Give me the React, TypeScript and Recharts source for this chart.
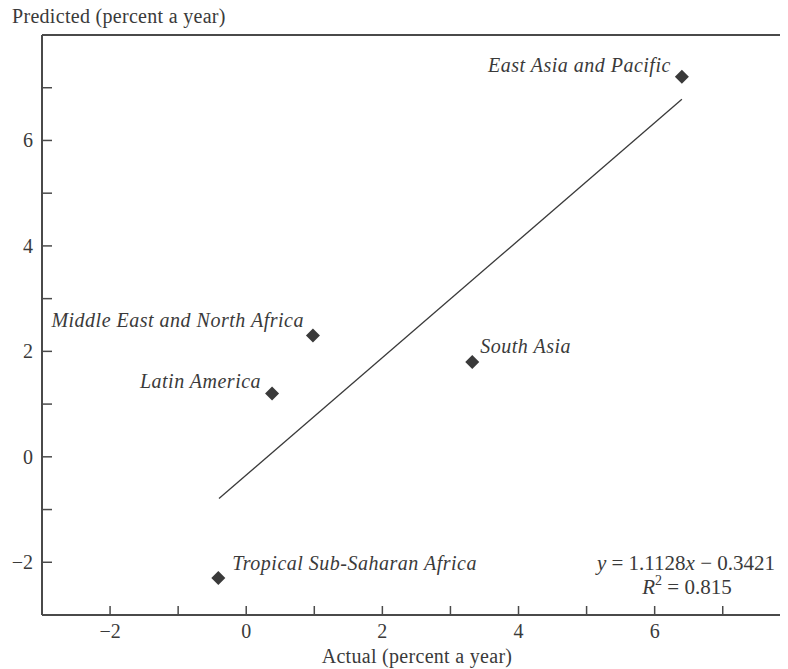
import React from 'react';
import { ScatterChart, Scatter, XAxis, YAxis, ReferenceLine } from 'recharts';

// regions and their growth rates (percent a year)
const regions = [
  'East Asia and Pacific',
  'Middle East and North Africa',
  'Latin America',
  'South Asia',
  'Tropical Sub-Saharan Africa',
];
const actual = [6.4, 0.98, 0.38, 3.32, -0.41];
const predicted = [7.21, 2.3, 1.2, 1.8, -2.3];

// fitted line end points
const fitX = [-0.4, 6.4];
const fitY = [-0.79, 6.78];

const xTicks = [-2, -1, 0, 1, 2, 3, 4, 5, 6, 7];
const yTicks = [-2, -1, 0, 1, 2, 3, 4, 5, 6, 7];

const data = regions.map((name, i) => ({ name, x: actual[i], y: predicted[i] }));

const INK = '#3a3a3a';
const AXIS = '#4a4a4a';
const FONT = '"Liberation Serif", "Times New Roman", serif';

// where each point's label sits relative to its marker
const labelPlace: Record<string, { dx: number; dy: number; anchor: 'start' | 'end' }> = {
  'East Asia and Pacific': { dx: -11, dy: -5, anchor: 'end' },
  'Middle East and North Africa': { dx: -9, dy: -9, anchor: 'end' },
  'Latin America': { dx: -11, dy: -6, anchor: 'end' },
  'South Asia': { dx: 8, dy: -9, anchor: 'start' },
  'Tropical Sub-Saharan Africa': { dx: 14, dy: -8, anchor: 'start' },
};

const fmt = (v: number) => (v < 0 ? `\u2212${-v}` : `${v}`);

const XTick = (props: any) => {
  const { x, y, payload } = props;
  const v = payload.value;
  return (
    <g>
      <line x1={x} y1={y} x2={x} y2={y - 9} stroke={AXIS} strokeWidth={1.5} />
      {v % 2 === 0 && (
        <text x={x} y={y + 23} textAnchor="middle" fill={INK} fontFamily={FONT} fontSize={20}>
          {fmt(v)}
        </text>
      )}
    </g>
  );
};

const YTick = (props: any) => {
  const { x, y, payload } = props;
  const v = payload.value;
  return (
    <g>
      <line x1={x} y1={y} x2={x + 10} y2={y} stroke={AXIS} strokeWidth={1.5} />
      {v % 2 === 0 && (
        <text x={x - 9} y={y + 7} textAnchor="end" fill={INK} fontFamily={FONT} fontSize={20}>
          {fmt(v)}
        </text>
      )}
    </g>
  );
};

const Marker = (props: any) => {
  const { cx, cy, payload } = props;
  const p = labelPlace[payload.name];
  const s = 7;
  return (
    <g>
      <polygon
        points={`${cx},${cy - s} ${cx + s},${cy} ${cx},${cy + s} ${cx - s},${cy}`}
        fill={INK}
      />
      <text
        x={cx + p.dx}
        y={cy + p.dy}
        textAnchor={p.anchor}
        fill={INK}
        fontFamily={FONT}
        fontStyle="italic"
        fontSize={20}
        letterSpacing={0.5}
      >
        {payload.name}
      </text>
    </g>
  );
};

export default function App() {
  return (
    <div style={{ position: 'relative', width: 780, height: 661 }}>
      <style>{'svg { overflow: visible; }'}</style>
      <ScatterChart
        width={780}
        height={661}
        margin={{ top: 27, right: 4, left: 4, bottom: 24 }}
      >
        <XAxis
          type="number"
          dataKey="x"
          domain={[-3, 7.9]}
          ticks={xTicks}
          height={30}
          allowDataOverflow
          axisLine={{ stroke: AXIS, strokeWidth: 2 }}
          tickLine={false}
          tickSize={0}
          tickMargin={0}
          tick={<XTick />}
          interval={0}
        />
        <YAxis
          type="number"
          dataKey="y"
          domain={[-3, 8]}
          ticks={yTicks}
          width={30}
          allowDataOverflow
          axisLine={{ stroke: AXIS, strokeWidth: 2 }}
          tickLine={false}
          tickSize={0}
          tickMargin={0}
          tick={<YTick />}
          interval={0}
        />
        <ReferenceLine y={8} stroke={AXIS} strokeWidth={2} ifOverflow="extendDomain" />
        <ReferenceLine
          segment={[
            { x: fitX[0], y: fitY[0] },
            { x: fitX[1], y: fitY[1] },
          ]}
          stroke={INK}
          strokeWidth={1.3}
        />
        <Scatter data={data} shape={<Marker />} isAnimationActive={false} />
      </ScatterChart>
      <svg
        width={780}
        height={661}
        style={{ position: 'absolute', left: 0, top: 0, pointerEvents: 'none' }}
      >
        <g fill={INK} fontFamily={FONT} fontSize={20}>
          <text x={4} y={15} letterSpacing={0.3}>Predicted (percent a year)</text>
          <text x={409} y={655} textAnchor="middle" letterSpacing={0.3}>Actual (percent a year)</text>
          <text x={678} y={562} textAnchor="middle" fontSize={21}>
            <tspan fontStyle="italic">y</tspan> = 1.1128<tspan fontStyle="italic">x</tspan> {'\u2212'} 0.3421
          </text>
          <text x={679} y={586} textAnchor="middle" fontSize={21}>
            <tspan fontStyle="italic">R</tspan>
            <tspan fontSize={14} dy={-9}>2</tspan>
            <tspan dy={9}> = 0.815</tspan>
          </text>
        </g>
      </svg>
    </div>
  );
}
